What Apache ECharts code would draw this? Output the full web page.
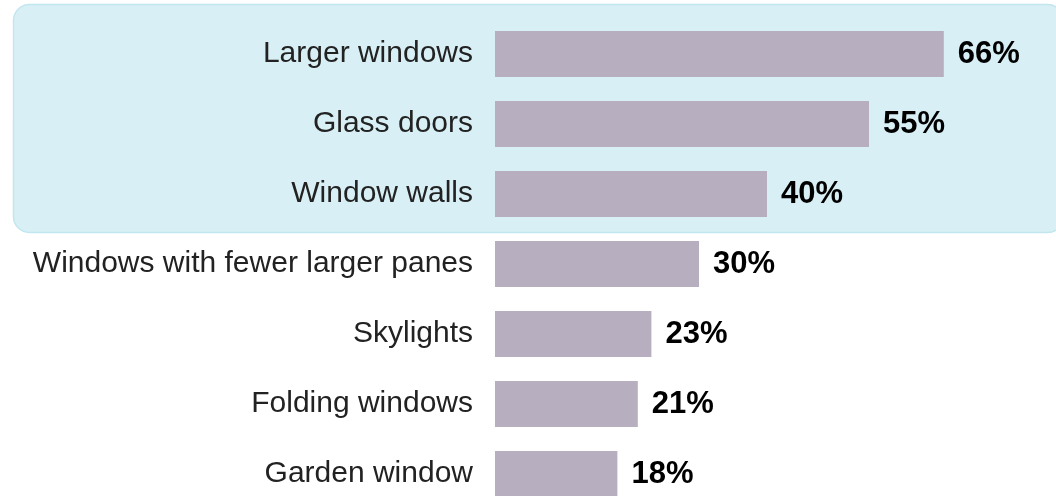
<!DOCTYPE html>
<html>
<head>
<meta charset="utf-8">
<script src="https://cdn.jsdelivr.net/npm/echarts@6/dist/echarts.min.js"></script>
<style>
  html, body { margin: 0; padding: 0; background: #ffffff; }
  #chart { width: 1056px; height: 496px; }
</style>
</head>
<body>
<div id="chart"></div>
<script>
// Features wanted for more natural light (share of respondents, %)
const categories = [
  'Larger windows',
  'Glass doors',
  'Window walls',
  'Windows with fewer larger panes',
  'Skylights',
  'Folding windows',
  'Garden window'
];
const shares = [66, 55, 40, 30, 23, 21, 18];

const chart = echarts.init(document.getElementById('chart'));

chart.setOption({
  animation: false,
  backgroundColor: '#ffffff',
  graphic: [{
    type: 'rect',
    z: -10,
    shape: { x: 13.5, y: 4.5, width: 1050, height: 228, r: 16 },
    style: { fill: '#d8f0f5', stroke: '#c2e6ef', lineWidth: 1.5 }
  }],
  grid: {
    left: 495, top: 19, width: 680, height: 490,
    outerBoundsMode: 'none',
    containLabel: false
  },
  xAxis: {
    type: 'value',
    min: 0,
    max: 100,
    show: false
  },
  yAxis: {
    type: 'category',
    data: categories,
    inverse: true,
    axisLine: { show: false },
    axisTick: { show: false },
    axisLabel: {
      margin: 22,
      fontFamily: 'Liberation Sans, Arial, sans-serif',
      fontSize: 30,
      color: '#222222'
    }
  },
  series: [{
    type: 'bar',
    data: shares,
    barCategoryGap: '34%',
    itemStyle: { color: '#b7afbf' },
    label: {
      show: true,
      position: 'right',
      distance: 14,
      formatter: '{c}%',
      fontFamily: 'Liberation Sans, Arial, sans-serif',
      fontSize: 31,
      fontWeight: 'bold',
      color: '#000000'
    }
  }]
});
</script>
</body>
</html>
